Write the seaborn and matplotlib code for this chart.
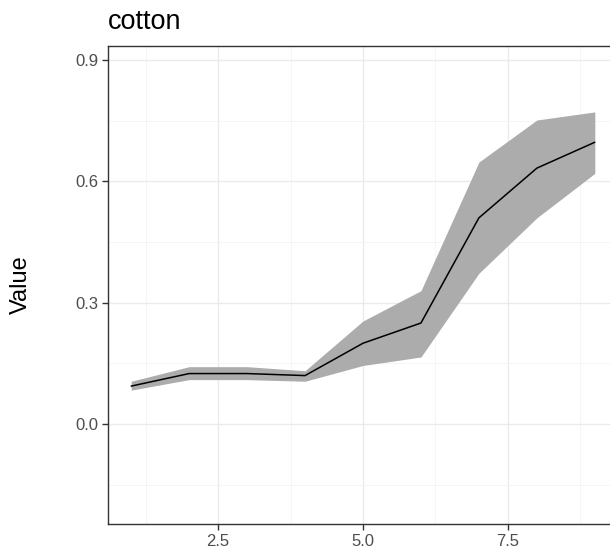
import matplotlib
matplotlib.use("Agg")
import matplotlib.pyplot as plt
import seaborn as sns
import pandas as pd
from matplotlib.ticker import FixedLocator

# data
x_vals = [1, 2, 3, 4, 5, 6, 7, 8, 9]
mean_vals = [0.094, 0.125, 0.125, 0.120, 0.200, 0.250, 0.510, 0.633, 0.697]
upper_vals = [0.106, 0.142, 0.142, 0.132, 0.255, 0.330, 0.648, 0.752, 0.772]
lower_vals = [0.084, 0.110, 0.110, 0.106, 0.145, 0.166, 0.373, 0.510, 0.620]
title_text = "cotton"
y_label = "Value"
x_ticks = [2.5, 5.0, 7.5]
y_ticks = [0.0, 0.3, 0.6, 0.9]

df = pd.DataFrame({"x": x_vals, "mean": mean_vals, "lo": lower_vals, "hi": upper_vals})

sns.set_theme(style="white")
plt.rcParams["font.family"] = ["Liberation Sans", "DejaVu Sans"]

fig = plt.figure(figsize=(6.10, 5.54), dpi=100)
ax = fig.add_axes([108 / 610, 30 / 554, 510 / 610, 478 / 554])

ax.fill_between(df["x"], df["lo"], df["hi"], color="#ACACAC", linewidth=0, zorder=2)
sns.lineplot(data=df, x="x", y="mean", color="black", linewidth=1.1, ax=ax, zorder=3)

ax.set_xlim(0.6, 9.4)
ax.set_ylim(-0.247, 0.935)

ax.xaxis.set_major_locator(FixedLocator(x_ticks))
ax.yaxis.set_major_locator(FixedLocator(y_ticks))
ax.xaxis.set_minor_locator(FixedLocator([1.25, 3.75, 6.25, 8.75]))
ax.yaxis.set_minor_locator(FixedLocator([-0.15, 0.15, 0.45, 0.75]))
ax.set_xticklabels([f"{t:.1f}" for t in x_ticks])
ax.set_yticklabels([f"{t:.1f}" for t in y_ticks])

ax.grid(which="major", color="#EBEBEB", linewidth=1.0, zorder=0)
ax.grid(which="minor", color="#F4F4F4", linewidth=0.6, zorder=0)
ax.set_axisbelow(True)

ax.tick_params(axis="both", which="major", length=4, width=1, color="#333333",
               labelsize=12, labelcolor="#4D4D4D", direction="out", pad=3,
               bottom=True, left=True)
ax.tick_params(axis="both", which="minor", length=0)

for s in ax.spines.values():
    s.set_color("#333333")
    s.set_linewidth(1.0)

ax.set_xlabel("")
ax.set_ylabel(y_label, fontsize=17, color="black")
ax.yaxis.set_label_coords(-0.149, 0.5)
ax.set_title(title_text, loc="left", fontsize=19.5, color="black", pad=12)

fig.savefig("out.png", dpi=100)
